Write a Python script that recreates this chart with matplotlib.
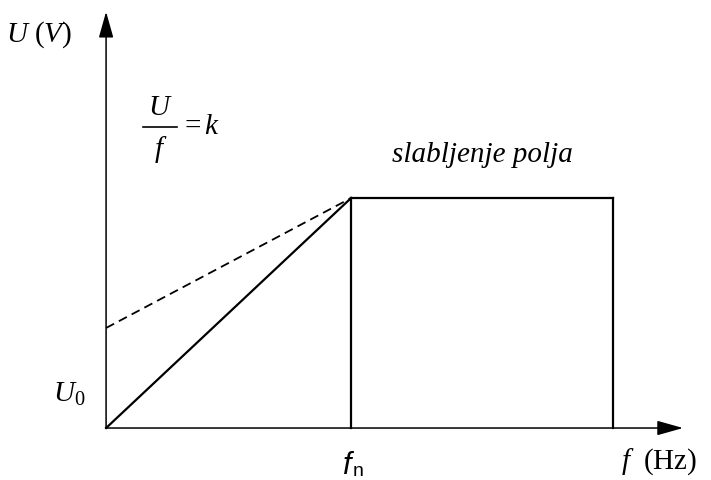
import matplotlib
matplotlib.use("Agg")
import matplotlib.pyplot as plt

plt.rcParams['mathtext.fontset'] = 'custom'
plt.rcParams['mathtext.rm'] = 'Liberation Serif'
plt.rcParams['mathtext.it'] = 'Liberation Serif:italic'

# characteristic U(f): rated point normalised to (1, 1)
f_rated = 1.0
u_rated = 1.0
f_max = 2.07
u0 = 0.435

# V/f line up to the rated point, then constant voltage (field weakening)
f_rise = [0.0, f_rated]
u_rise = [0.0, u_rated]
f_top = [f_rated, f_max]
u_top = [u_rated, u_rated]
# boosted line starting at U0
f_dash = [0.0, f_rated]
u_dash = [u0, u_rated]

fig = plt.figure(figsize=(7.11, 4.80), dpi=100)
ax = fig.add_axes([0, 0, 1, 1])
ax.set_xlim(-0.433, 2.469)
ax.set_ylim(-0.226, 1.861)
ax.axis('off')

# axes with arrowheads
arrow = dict(arrowstyle='-|>,head_length=1.6,head_width=0.45',
             color='black', lw=1.1, shrinkA=0, shrinkB=0)
ax.annotate('', xy=(2.355, 0), xytext=(0, 0), arrowprops=arrow)
ax.annotate('', xy=(0, 1.81), xytext=(0, 0), arrowprops=arrow)

ax.plot(f_rise, u_rise, color='black', lw=1.6)
ax.plot([f_rated, f_rated], [0, u_rated], color='black', lw=1.6)
ax.plot([f_max, f_max], [0, u_rated], color='black', lw=1.6)
ax.plot(f_top, u_top, color='black', lw=1.6)
ax.plot(f_dash, u_dash, color='black', lw=1.3, dashes=(5, 3))

ax.text(-0.41, 1.71, r'$U\ (V)$', fontsize=21, ha='left', va='center')

# U/f = k written as a stacked fraction
ax.text(0.222, 1.395, r'$U$', fontsize=21, ha='center', va='center')
ax.plot([0.152, 0.29], [1.309, 1.309], color='black', lw=1.2)
ax.text(0.222, 1.21, r'$f$', fontsize=21, ha='center', va='center')
ax.text(0.302, 1.313, r'$=k$', fontsize=21, ha='left', va='center')

ax.text(1.535, 1.185, 'slabljenje polja', fontsize=21, style='italic',
        family='Liberation Serif', ha='center', va='center')
ax.text(-0.215, 0.15, r'$U_{0}$', fontsize=21, ha='left', va='center')
ax.text(0.965, -0.165, 'f', fontsize=22, style='italic',
        family='Liberation Sans', ha='left', va='center')
ax.text(1.008, -0.19, 'n', fontsize=14,
        family='Liberation Sans', ha='left', va='center')
ax.text(2.10, -0.145, r'$f\ \ \mathrm{(Hz)}$', fontsize=21, ha='left', va='center')

fig.savefig('out.png', dpi=100)
